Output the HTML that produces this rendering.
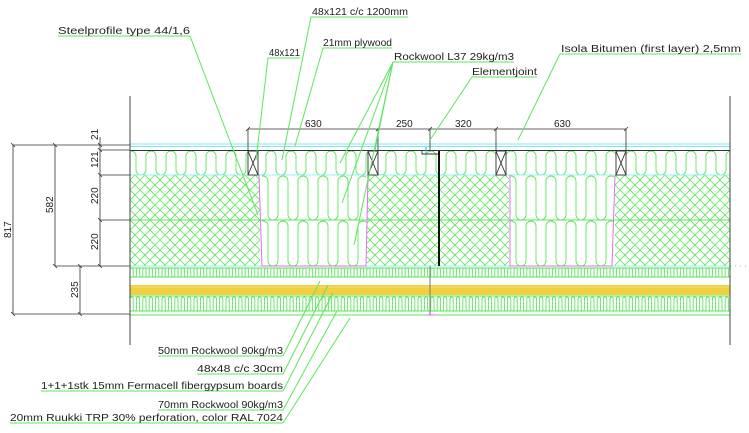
<!DOCTYPE html>
<html><head><meta charset="utf-8"><style>
html,body{margin:0;padding:0;background:#fff;width:749px;height:433px;overflow:hidden}
svg{display:block}
text{font-family:"Liberation Sans",sans-serif;font-size:10px;fill:#222}
</style></head><body>
<svg id="s" width="749" height="433" viewBox="0 0 749 433" xmlns="http://www.w3.org/2000/svg">
<defs>
<pattern id="hx" width="10" height="10" patternUnits="userSpaceOnUse">
<path d="M0,0L10,10M10,0L0,10" stroke="#5ce65c" stroke-width="0.8" fill="none"/>
</pattern>
<clipPath id="c1"><rect x="262" y="175" width="104" height="91"/></clipPath>
<clipPath id="c2"><rect x="510" y="175" width="104" height="91"/></clipPath>
<clipPath id="cTop"><rect x="130" y="150" width="600" height="25"/></clipPath>
<clipPath id="cL1"><rect x="130" y="266" width="600" height="12"/></clipPath>
<clipPath id="cL2"><rect x="130" y="296" width="600" height="16"/></clipPath>
</defs>
<g id="ins" fill="none" stroke="#5ce65c" stroke-width="0.9"></g>
<g fill="url(#hx)">
<rect x="130" y="175" width="130" height="91"/>
<rect x="367" y="175" width="71" height="91"/>
<rect x="439" y="175" width="70" height="91"/>
<rect x="615" y="175" width="115" height="91"/>
</g>
<g stroke-width="0.9" fill="none">
<line x1="130" y1="144" x2="730" y2="144" stroke="#7de8f0"/>
<line x1="130" y1="146.5" x2="730" y2="146.5" stroke="#7de8f0"/>
<line x1="130" y1="150.5" x2="730" y2="150.5" stroke="#333"/>
<line x1="130" y1="175" x2="730" y2="175" stroke="#8ff0f5"/>
<line x1="130" y1="220" x2="730" y2="220" stroke="#5ce65c"/>
<line x1="130" y1="266" x2="730" y2="266" stroke="#8ff0f5"/>
<line x1="730" y1="266" x2="749" y2="266" stroke="#5ce65c" stroke-dasharray="1 4"/>
<line x1="130" y1="268" x2="730" y2="268" stroke="#5ce65c"/>
<line x1="130" y1="277" x2="730" y2="277" stroke="#5ce65c"/>
<line x1="130" y1="296" x2="730" y2="296" stroke="#5ce65c"/>
<line x1="130" y1="311" x2="730" y2="311" stroke="#5ce65c"/>
<line x1="130" y1="315" x2="730" y2="315" stroke="#5ce65c"/>
</g>
<rect x="130" y="285" width="600" height="10" fill="#f0d040"/>
<line x1="130" y1="287" x2="730" y2="287" stroke="#f5e070" stroke-width="1"/>
<g stroke="#e070e8" stroke-width="1" fill="none">
<path d="M259,175L262,266L366,266L368,175"/>
<path d="M510,175L510,266L612,266L615,175"/>
<path d="M425,315L438,315"/>
</g>
<g stroke="#333" stroke-width="0.9" fill="#fff">
<rect x="248" y="151" width="10" height="24"/><path d="M248,151L258,175M258,151L248,175"/>
<rect x="368" y="151" width="10" height="24"/><path d="M368,151L378,175M378,151L368,175"/>
<rect x="496" y="151" width="10" height="24"/><path d="M496,151L506,175M506,151L496,175"/>
<rect x="616" y="151" width="10" height="24"/><path d="M616,151L626,175M626,151L616,175"/>
</g>
<path d="M422,150L422,154L439,154" stroke="#333" stroke-width="0.9" fill="none"/>
<line x1="426" y1="147" x2="426" y2="154" stroke="#2ad" stroke-width="1"/>
<line x1="439" y1="151" x2="439" y2="266" stroke="#111" stroke-width="2"/>
<line x1="430" y1="266" x2="430" y2="315" stroke="#777" stroke-width="1"/>
<line x1="130" y1="96" x2="130" y2="345" stroke="#444" stroke-width="1"/>
<line x1="730" y1="96" x2="730" y2="345" stroke="#444" stroke-width="1"/>
<g stroke="#333" stroke-width="0.8" fill="none">
<line x1="248" y1="129" x2="626" y2="129"/>
<line x1="248" y1="129" x2="248" y2="151"/>
<line x1="378" y1="129" x2="378" y2="151"/>
<line x1="430" y1="129" x2="430" y2="150"/>
<line x1="496" y1="129" x2="496" y2="151"/>
<line x1="626" y1="129" x2="626" y2="151"/>
<path d="M246,131L250,127M376,131L380,127M428,131L432,127M494,131L498,127M624,131L628,127"/>
</g>
<text x="305" y="127">630</text><text x="396" y="127">250</text><text x="455" y="127">320</text><text x="554" y="127">630</text>
<g stroke="#333" stroke-width="0.8" fill="none">
<line x1="13" y1="145" x2="13" y2="314"/>
<line x1="55" y1="145" x2="55" y2="266"/>
<line x1="80" y1="266" x2="80" y2="314"/>
<line x1="100" y1="137" x2="100" y2="266"/>
<line x1="13" y1="145" x2="130" y2="145"/>
<line x1="100" y1="150" x2="130" y2="150"/>
<line x1="100" y1="175" x2="130" y2="175"/>
<line x1="100" y1="220" x2="130" y2="220"/>
<line x1="55" y1="266" x2="130" y2="266"/>
<line x1="13" y1="314" x2="130" y2="314"/>
<path d="M11,143L15,147M53,143L57,147M11,312L15,316M53,264L57,268M78,264L82,268M78,312L82,316M98,143L102,147M98,148L102,152M98,173L102,177M98,218L102,222M98,264L102,268"/>
</g>
<g>
<text transform="translate(98,140) rotate(-90)">21</text>
<text transform="translate(98,168) rotate(-90)">121</text>
<text transform="translate(98,204) rotate(-90)">220</text>
<text transform="translate(98,250) rotate(-90)">220</text>
<text transform="translate(53,213) rotate(-90)">582</text>
<text transform="translate(11,238) rotate(-90)">817</text>
<text transform="translate(78,298) rotate(-90)">235</text>
</g>
<g stroke="#5ce65c" stroke-width="1" fill="none">
<path d="M58,36L190,36L258,215"/>
<path d="M408,17L311,17L282,160"/>
<path d="M300,58L268,58L256,160"/>
<path d="M392,48L323,48L295,146"/>
<path d="M514,62L393,62L340,163M393,62L342,203M393,62L354,245M393,62L375,150"/>
<path d="M537,77L472,77L430,140"/>
<path d="M741,54L560,54L518,140"/>
<path d="M158,356L283,356L320,281"/>
<path d="M197,374L283,374L328,285"/>
<path d="M41,391L283,391L333,293"/>
<path d="M158,410L283,410L337,311"/>
<path d="M10,423L283,423L350,318"/>
</g>
<g>
<text x="58" y="34" textLength="132" lengthAdjust="spacingAndGlyphs">Steelprofile type 44/1,6</text>
<text x="312" y="15" textLength="96" lengthAdjust="spacingAndGlyphs">48x121 c/c 1200mm</text>
<text x="269" y="56" textLength="31" lengthAdjust="spacingAndGlyphs">48x121</text>
<text x="323" y="46" textLength="69" lengthAdjust="spacingAndGlyphs">21mm plywood</text>
<text x="394" y="60" textLength="120" lengthAdjust="spacingAndGlyphs">Rockwool L37 29kg/m3</text>
<text x="472" y="75" textLength="65" lengthAdjust="spacingAndGlyphs">Elementjoint</text>
<text x="561" y="52" textLength="180" lengthAdjust="spacingAndGlyphs">Isola Bitumen (first layer) 2,5mm</text>
<text x="158" y="354" textLength="125" lengthAdjust="spacingAndGlyphs">50mm Rockwool 90kg/m3</text>
<text x="197" y="372" textLength="86" lengthAdjust="spacingAndGlyphs">48x48 c/c 30cm</text>
<text x="41" y="389" textLength="242" lengthAdjust="spacingAndGlyphs">1+1+1stk 15mm Fermacell fibergypsum boards</text>
<text x="158" y="408" textLength="125" lengthAdjust="spacingAndGlyphs">70mm Rockwool 90kg/m3</text>
<text x="10" y="421" textLength="273" lengthAdjust="spacingAndGlyphs">20mm Ruukki TRP 30% perforation, color RAL 7024</text>
</g>
</svg>
<script>
(function(){
var g=document.getElementById('ins'),NS='http://www.w3.org/2000/svg';
function serp(x0,x1,y0,y1,r,clip){
 var d='M'+x0+','+(y1-r),x=x0;
 while(x<x1+4*r){
  d+='L'+x+','+(y0+r)+'A'+r+','+r+' 0 0 1 '+(x+2*r)+','+(y0+r);
  d+='L'+(x+2*r)+','+(y1-r)+'A'+r+','+r+' 0 0 0 '+(x+4*r)+','+(y1-r);
  x+=4*r;
 }
 var p=document.createElementNS(NS,'path');p.setAttribute('d',d);
 if(clip)p.setAttribute('clip-path','url(#'+clip+')');g.appendChild(p);
}
serp(126,730,151,175,5,'cTop');
serp(258,366,176,220,5,'c1');serp(258,366,221,266,5,'c1');
serp(506,614,176,220,5,'c2');serp(506,614,221,266,5,'c2');
serp(130,730,268,277,1.6,'cL1');
serp(130,730,297,311,1.6,'cL2');
})();
</script>
</body></html>
